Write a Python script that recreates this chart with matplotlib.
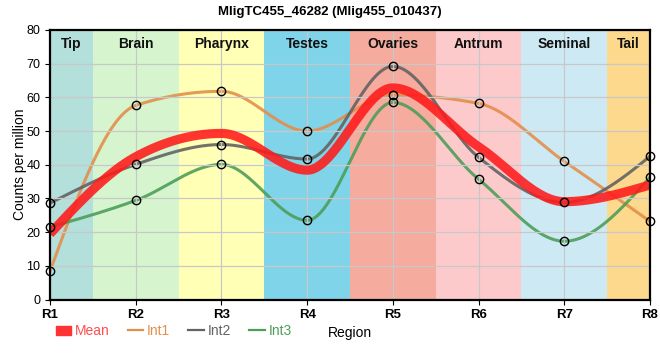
import numpy as np
import matplotlib
matplotlib.use("Agg")
import matplotlib.pyplot as plt
from matplotlib.lines import Line2D
from matplotlib.patches import Patch

plt.rcParams['font.family'] = ['Liberation Sans', 'DejaVu Sans']

title = "MligTC455_46282 (Mlig455_010437)"
regions = ["R1", "R2", "R3", "R4", "R5", "R6", "R7", "R8"]
bands = ["Tip", "Brain", "Pharynx", "Testes", "Ovaries", "Antrum", "Seminal", "Tail"]
band_colors = ["#b4e0dc", "#d6f5cf", "#ffffb5", "#7fd4ea", "#f5ab9e", "#fdcacc", "#cdeaf4", "#fcd98c"]
int1 = [8.4, 57.6, 61.8, 50.0, 60.7, 58.2, 41.0, 23.2]
int2 = [28.6, 40.1, 46.0, 41.7, 69.2, 42.2, 28.8, 42.5]
int3 = [21.5, 29.4, 40.1, 23.5, 58.5, 35.7, 17.3, 36.3]
mean = list(np.mean([int1, int2, int3], axis=0))


def monotone(x, y, n=60):
    x = np.asarray(x, float); y = np.asarray(y, float)
    h = np.diff(x); s = np.diff(y) / h
    t = np.zeros(len(x))
    for i in range(1, len(x) - 1):
        p = (s[i - 1] * h[i] + s[i] * h[i - 1]) / (h[i - 1] + h[i])
        t[i] = (np.sign(s[i - 1]) + np.sign(s[i])) * min(abs(s[i - 1]), abs(s[i]), 0.5 * abs(p))
    t[0] = (3 * s[0] - t[1]) / 2
    t[-1] = (3 * s[-1] - t[-2]) / 2
    xs, ys = [], []
    for i in range(len(x) - 1):
        u = np.linspace(0, 1, n)
        h00 = 2 * u**3 - 3 * u**2 + 1
        h10 = u**3 - 2 * u**2 + u
        h01 = -2 * u**3 + 3 * u**2
        h11 = u**3 - u**2
        xs.append(x[i] + u * h[i])
        ys.append(h00 * y[i] + h10 * h[i] * t[i] + h01 * y[i + 1] + h11 * h[i] * t[i + 1])
    return np.concatenate(xs), np.concatenate(ys)


fig = plt.figure(figsize=(6.6, 3.6), dpi=100)
ax = fig.add_axes([50 / 660, 1 - 299.5 / 360, 600 / 660, 269.5 / 360])
xpos = np.arange(len(regions))

for i, (b, c) in enumerate(zip(bands, band_colors)):
    lo = max(i - 0.5, 0); hi = min(i + 0.5, len(regions) - 1)
    ax.axvspan(lo, hi, color=c, lw=0, zorder=0)
    ax.text((lo + hi) / 2, 78, b, ha='center', va='top', fontsize=10, fontweight='bold', color='#111111', zorder=5)

ax.set_xlim(0, len(regions) - 1)
ax.set_ylim(0, 80)
ax.set_yticks(np.arange(0, 81, 10))
ax.set_xticks(xpos)
ax.set_xticklabels(regions, fontweight='bold', fontsize=9.5)
ax.tick_params(axis='y', labelsize=9)
ax.grid(True, color='#c8c8c8', lw=0.9, zorder=1)
ax.set_axisbelow(False)
for sp in ax.spines.values():
    sp.set_linewidth(1.6)
    sp.set_zorder(6)

series = [("Int1", int1, "#e38f4c"), ("Int2", int2, "#636363"), ("Int3", int3, "#4e9e5a")]
mx, my = monotone(xpos, mean)
ax.plot(mx, my, color='#ff1a1a', lw=6.6, alpha=0.88, zorder=3, solid_capstyle='butt')
for name, vals, col in series:
    sx, sy = monotone(xpos, vals)
    ax.plot(sx, sy, color=col, lw=2.2, alpha=0.9, zorder=2)
    ax.plot(xpos, vals, 'o', mfc='none', mec='black', mew=1.0, ms=6, zorder=4, clip_on=False)

ax.set_ylabel("Counts per million", fontsize=10)
ax.yaxis.set_label_coords(-23 / 600, 0.5)
ax.set_xlabel("Region", fontsize=10)
ax.xaxis.set_label_coords(0.5, -0.1)
fig.suptitle(title, fontsize=9.5, fontweight='bold', y=0.983)

handles = [Patch(color='#ff3333'),
           Line2D([], [], color='#e38f4c', lw=1.6),
           Line2D([], [], color='#636363', lw=1.6),
           Line2D([], [], color='#4e9e5a', lw=1.6)]
labels = ["Mean", "Int1", "Int2", "Int3"]
leg = fig.legend(handles, labels, loc='center left', bbox_to_anchor=(43 / 660, 1 - 331 / 360), ncol=4,
                 frameon=False, fontsize=10, handlelength=1.1, handleheight=0.6, handletextpad=0.3,
                 columnspacing=1.3)
for txt, col in zip(leg.get_texts(), ['#ff4d4d', '#e38f4c', '#636363', '#4e9e5a']):
    txt.set_color(col)

fig.savefig("out.png", dpi=100)
